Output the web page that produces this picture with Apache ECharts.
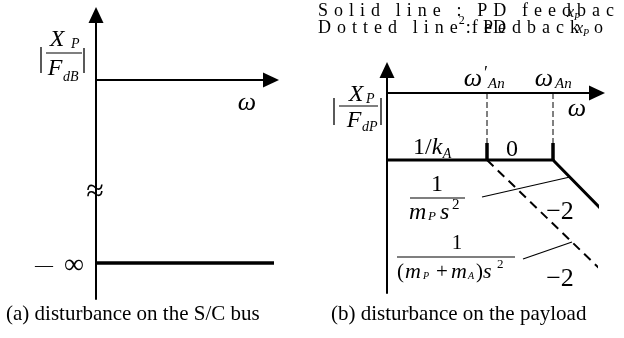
<!DOCTYPE html>
<html><head><meta charset="utf-8">
<script src="https://cdn.jsdelivr.net/npm/echarts@6/dist/echarts.min.js"></script>
<style>html,body{margin:0;padding:0;background:#fff}#c{width:624px;height:338px}</style>
</head><body><div id="c"></div>
<script>
// ---- data (log-frequency / magnitude, schematic units) ----
const leftLevelOmega = [0, 3.68];          // |Xp/FdB| = -inf level
const leftLevelMag = [-3.66, -3.66];
const rightSolidOmega = [0, 3.32, 4.32];   // PD feedback of xp (solid)
const rightSolidMag = [-1.34, -1.34, -2.36];
const rightDottedOmega = [2.0, 4.32];      // dotted line
const rightDottedMag = [-1.34, -3.58];
const cornerOmega = [2.0, 3.32];           // ω'_An, ω_An
const slopeLabels = ['\u22122', '\u22122'];
const captions = ['(a) disturbance on the S/C bus', '(b) disturbance on the payload'];
const headerWords1 = ['Solid', 'line', ':', 'PD', 'feedbac'];
const headerWords2 = ['Dotted', 'line'];
const headerTail2 = ':feedback';

const SERIF = '"Liberation Serif","Times New Roman",serif';
const zip = (a, b) => a.map((v, i) => [v, b[i]]);

function T(x, y, text, size, italic, align, extra) {
  const font = (italic ? 'italic ' : '') + size + 'px ' + SERIF;
  return Object.assign({type: 'text', x: x, y: y, silent: true, z: 10,
    style: {text: text, font: font, fill: '#000', align: align || 'center', verticalAlign: 'middle',
            textAlign: align || 'center', textVerticalAlign: 'middle'}}, extra || {});
}
function L(x1, y1, x2, y2, w) {
  return {type: 'line', silent: true, z: 10, shape: {x1, y1, x2, y2}, style: {stroke: '#000', lineWidth: w || 1.2}};
}
const cv = document.createElement('canvas').getContext('2d');
function W(text, font) { cv.font = font; return cv.measureText(text).width; }

const chart = echarts.init(document.getElementById('c'), null, {renderer: 'canvas'});

const axisCommon = {
  type: 'value', axisTick: {show: false}, axisLabel: {show: false}, splitLine: {show: false},
  axisLine: {show: true, onZero: true, symbol: ['none', 'triangle'], symbolSize: [15, 16],
             lineStyle: {color: '#000', width: 2}}
};
const ax = (o) => Object.assign({}, JSON.parse(JSON.stringify(axisCommon)), o);

const base = {type: 'line', symbol: 'none', clip: false, silent: true, animation: false};
const level = rightSolidMag[0];

const series = [
  Object.assign({}, base, {xAxisIndex: 0, yAxisIndex: 0, data: zip(leftLevelOmega, leftLevelMag),
    lineStyle: {color: '#000', width: 3.5}}),
  Object.assign({}, base, {xAxisIndex: 1, yAxisIndex: 1, data: zip(rightSolidOmega, rightSolidMag),
    lineStyle: {color: '#000', width: 3}}),
  Object.assign({}, base, {xAxisIndex: 1, yAxisIndex: 1, data: zip(rightDottedOmega, rightDottedMag),
    lineStyle: {color: '#000', width: 2, type: [9, 6]}})
];
cornerOmega.forEach(w => {
  series.push(Object.assign({}, base, {xAxisIndex: 1, yAxisIndex: 1, data: [[w, 0], [w, level]],
    lineStyle: {color: '#000', width: 1, type: [6, 3]}}));
  series.push(Object.assign({}, base, {xAxisIndex: 1, yAxisIndex: 1, data: [[w, level + 0.34], [w, level]],
    lineStyle: {color: '#000', width: 3.5}}));
});

// ---- letter-spaced header ----
const hSize = 18, hFont = hSize + 'px ' + SERIF;
const hx = 318, hEnd1 = 614;
let sumW = 0, nGapL = 0;
headerWords1.forEach(w => { for (const c of w) sumW += W(c, hFont); nGapL += w.length - 1; });
const gW_ratio = 2.6;
const gL = (hEnd1 - hx - sumW) / (nGapL + gW_ratio * (headerWords1.length - 1));
const gW = gL * gW_ratio;
const g = [];
const pos1 = {};
let cx = hx;
headerWords1.forEach((w, wi) => {
  [...w].forEach((c, ci) => {
    g.push(T(cx, 11, c, hSize, false, 'left'));
    pos1[wi + ':' + ci] = cx;
    cx += W(c, hFont) + (ci < w.length - 1 ? gL : 0);
  });
  cx += gW;
});
// overlay x_P between "d" and "b" of feedbac
const xd = pos1['4:3'];
g.push(T(xd + 5, 13, 'x', 16, true, 'left'), T(xd + 12, 17, 'P', 10, true, 'left'));

cx = hx;
headerWords2.forEach((w, wi) => {
  [...w].forEach((c, ci) => {
    g.push(T(cx, 28, c, hSize, false, 'left'));
    cx += W(c, hFont) + (ci < w.length - 1 ? gL : 0);
  });
  if (wi < headerWords2.length - 1) cx += gW;
});
g.push(T(cx + 1, 21, '2', 12, false, 'left'));
cx += 8;
const pos2 = [];
[...headerTail2].forEach((c, ci) => {
  g.push(T(cx, 28, c, hSize, false, 'left'));
  pos2.push(cx);
  cx += W(c, hFont) + (ci === 0 ? 1 : gL);
});
g.push(T(pos2[2] - 1, 28, 'PD', hSize, false, 'left'));
const xk = pos2[pos2.length - 1];
g.push(T(xk + 6, 29, 'x', 16, true, 'left'), T(xk + 13, 33, 'P', 10, true, 'left'));
g.push(T(cx + 9, 28, 'o', hSize, false, 'left'));

g.push(
  // left panel labels
  L(41, 47, 41, 73, 1.3), L(84, 48, 84, 73, 1.3),
  T(57, 40, 'X', 24, true), T(71, 44, 'P', 14, true, 'left'),
  L(46, 53, 82, 53, 1.2),
  T(55, 69, 'F', 24, true), T(63, 77, 'dB', 14, true, 'left'),
  T(247, 103, '\u03c9', 26, true),
  T(95, 193, '\u2248', 32, false),
  T(44, 266, '\u2014', 18, false), T(74, 266, '\u221e', 28, false),

  // right panel labels
  L(334, 98, 334, 125, 1.3), L(381, 98, 381, 125, 1.3),
  T(356, 95, 'X', 24, true), T(366, 99, 'P', 14, true, 'left'),
  L(339, 106, 378, 106, 1.2),
  T(354, 121, 'F', 24, true), T(362, 127, 'dP', 14, true, 'left'),
  T(473, 79, '\u03c9', 26, true), T(484, 74, '\u2032', 18, false, 'left'), T(488, 84, 'An', 15, true, 'left'),
  T(544, 79, '\u03c9', 26, true), T(555, 84, 'An', 15, true, 'left'),
  T(577, 109, '\u03c9', 26, true),
  T(413, 148, '1/', 24, false, 'left'), T(413 + W('1/', '24px ' + SERIF), 148, 'k', 24, true, 'left'),
  T(413 + W('1/', '24px ' + SERIF) + 11, 154, 'A', 14, true, 'left'),
  T(512, 150, '0', 24, false),
  // fraction 1
  T(437, 185, '1', 24, false),
  L(410, 198, 465, 198, 1.2),
  T(409, 213, 'm', 24, true, 'left'), T(428, 217, 'P', 13, true, 'left'),
  T(440, 213, 's', 24, true, 'left'), T(452, 205, '2', 15, false, 'left'),
  L(482, 197, 570, 177, 1.2),
  T(560, 212, slopeLabels[0], 26, false),
  // fraction 2
  T(457, 243, '1', 21, false),
  L(397, 257, 515, 257, 1.2),
  T(397, 272, '(', 21, false, 'left'), T(405, 272, 'm', 22, true, 'left'), T(423, 276, 'P', 10, true, 'left'),
  T(436, 272, '+', 21, false, 'left'), T(451, 272, 'm', 22, true, 'left'), T(468, 276, 'A', 10, true, 'left'),
  T(476, 272, ')', 21, false, 'left'), T(483, 272, 's', 22, true, 'left'), T(497, 265, '2', 13, false, 'left'),
  L(523, 259, 572, 242, 1.2),
  T(560, 279, slopeLabels[1], 26, false),

  // captions
  T(6, 314, captions[0], 21, false, 'left'),
  T(331, 314, captions[1], 21, false, 'left')
);

chart.setOption({
  animation: false,
  backgroundColor: '#fff',
  grid: [
    {left: 96, top: 15, right: 353, bottom: 39},
    {left: 387, top: 70, right: 27, bottom: 45}
  ],
  xAxis: [ax({gridIndex: 0, min: 0, max: 3.5}), ax({gridIndex: 1, min: 0, max: 4.2})],
  yAxis: [ax({gridIndex: 0, min: -4.38, max: 1.3}), ax({gridIndex: 1, min: -4.0, max: 0.46})],
  series: series,
  graphic: g
});
</script></body></html>
